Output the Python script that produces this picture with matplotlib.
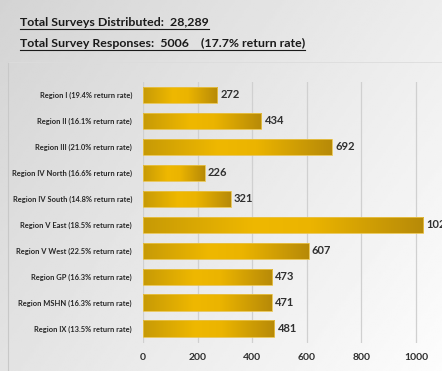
import numpy as np
import matplotlib
matplotlib.use("Agg")
import matplotlib.pyplot as plt
from matplotlib.colors import LinearSegmentedColormap
from matplotlib.lines import Line2D

# data
regions = [
    "Region I (19.4% return rate)",
    "Region II (16.1% return rate)",
    "Region III (21.0% return rate)",
    "Region IV North (16.6% return rate)",
    "Region IV South (14.8% return rate)",
    "Region V East (18.5% return rate)",
    "Region V West (22.5% return rate)",
    "Region GP (16.3% return rate)",
    "Region MSHN (16.3% return rate)",
    "Region IX (13.5% return rate)",
]
responses = [272, 434, 692, 226, 321, 1026, 607, 473, 471, 481]
x_ticks = [0, 200, 400, 600, 800, 1000]
title_lines = [
    "Total Surveys Distributed:  28,289",
    "Total Survey Responses:  5006    (17.7% return rate)",
]

W, H = 442, 371
fig = plt.figure(figsize=(W / 100, H / 100), dpi=100)

# slide background gradient
bg = fig.add_axes([0, 0, 1, 1], zorder=-10)
gx = np.linspace(0, 1, 200)
gy = np.linspace(0, 1, 200)
GX, GY = np.meshgrid(gx, gy)
shade = 0.83 + 0.10 * GX + 0.06 * GY
bg.imshow(shade, cmap="gray", vmin=0, vmax=1, extent=(0, W, H, 0), aspect="auto")
bg.set_xlim(0, W)
bg.set_ylim(H, 0)
bg.axis("off")
# inner panel edge
bg.plot([8, 8], [62, H], color="#c8c8c8", lw=0.8)
bg.plot([8, W], [62, 62], color="#dcdcdc", lw=0.6)

ax = fig.add_axes([143 / W, (H - 343) / H, 1200 * 0.273 / W, (343 - 82) / H])
ax.patch.set_alpha(0)

gold = LinearSegmentedColormap.from_list(
    "gold", [(0, "#c79a06"), (0.4, "#efb800"), (0.6, "#ebb400"), (1, "#b78a08")]
)
grad = np.linspace(0, 1, 256).reshape(1, -1)

y = np.arange(len(regions))
bars = ax.barh(y, responses, height=0.62, color="none", edgecolor="#e8c24a", lw=0.6, zorder=3)
for b, v in zip(bars, responses):
    im = ax.imshow(grad, cmap=gold, aspect="auto", zorder=2,
                   extent=(0, v, b.get_y() + b.get_height(), b.get_y()))
    im.set_clip_path(b)
    ax.text(v + 12, b.get_y() + b.get_height() / 2, str(v), va="center", ha="left",
            fontsize=8, fontweight="bold", color="#303030", family="Lato", clip_on=False)

ax.set_xlim(0, 1200)
ax.set_ylim(len(regions) - 0.44, -0.5)
ax.set_xticks(x_ticks)
ax.set_xticklabels([str(t) for t in x_ticks], fontsize=7.5, fontweight="bold",
                   color="#303030", family="Lato")
ax.set_yticks(y)
ax.set_yticklabels(regions, fontsize=5.4, fontweight="bold", color="#262626", family="Lato")
ax.tick_params(length=0)
ax.tick_params(axis="x", pad=7)
ax.tick_params(axis="y", pad=8)
ax.grid(axis="x", color="#d0d0d0", lw=0.9)
ax.set_axisbelow(True)
for s in ax.spines.values():
    s.set_visible(False)

# underlined headline text
fig.canvas.draw()
renderer = fig.canvas.get_renderer()
for i, line in enumerate(title_lines):
    t = fig.text(20 / W, 1 - (26 + i * 21) / H, line, fontsize=8.9, fontweight="bold",
                 color="#1a1a1a", family="Lato", va="baseline", ha="left")
    bb = t.get_window_extent(renderer)
    yl = (1 - (28.5 + i * 21) / H)
    fig.add_artist(Line2D([bb.x0 / W, bb.x1 / W], [yl, yl], transform=fig.transFigure,
                          color="#1a1a1a", lw=0.8))

fig.savefig("out.png", dpi=100)
